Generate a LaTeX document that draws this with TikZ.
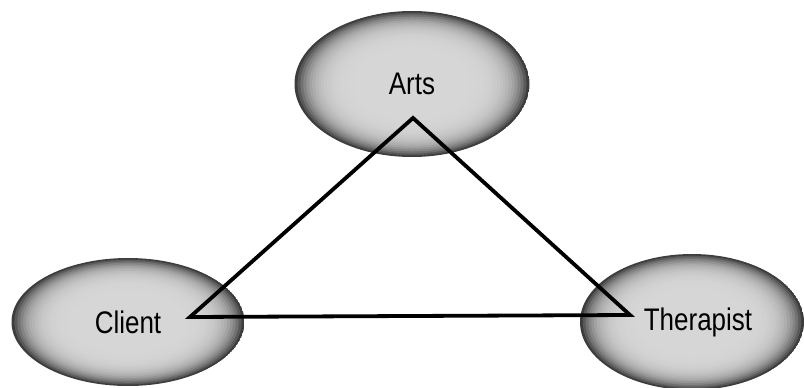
\documentclass[tikz,border=0pt]{standalone}
\usepackage{fontspec}
\newfontfamily\labelfont{Liberation Sans}
\usetikzlibrary{shapes.geometric,calc}
\newcommand\tallword[1]{\scalebox{1}[1.2]{#1}}
\tikzset{
  oval/.style 2 args={ellipse, inner sep=0pt, minimum width=#1, minimum height=#2,
    font=\labelfont\fontsize{26}{30}\selectfont,
    path picture={
      \foreach \i in {0,...,40}{
        \pgfmathsetmacro\f{1-\i/40}
        \pgfmathsetmacro\c{16+60*\f^8}
        \fill[black!\c] (path picture bounding box.center) ellipse [x radius={#1/2*\f}, y radius={#2/2*\f}];
      }}},
  tri/.style={line width=3.8pt, line join=miter}
}

\begin{document}
\begin{tikzpicture}[x=1pt, y=-1pt]
  \useasboundingbox (0,0) rectangle (804,388);
  \node[oval={235pt}{146pt}] (arts) at (412,84) {\tallword{Arts}};
  \node[oval={233pt}{128pt}] (client) at (128,322) {\tallword{Client}};
  \node[oval={224pt}{136pt}] (therapist) at (692,322) {\hspace{12pt}\tallword{Therapist}};

  % corners of the triangle, inside the ovals
  \coordinate (arts-v) at ($(arts)+(1,34)$);
  \coordinate (client-v) at ($(client)+(62,-5)$);
  \coordinate (therapist-v) at ($(therapist)+(-62,-7)$);

  \draw[tri] (arts-v) -- (client-v) -- (therapist-v) -- cycle;
\end{tikzpicture}
\end{document}
